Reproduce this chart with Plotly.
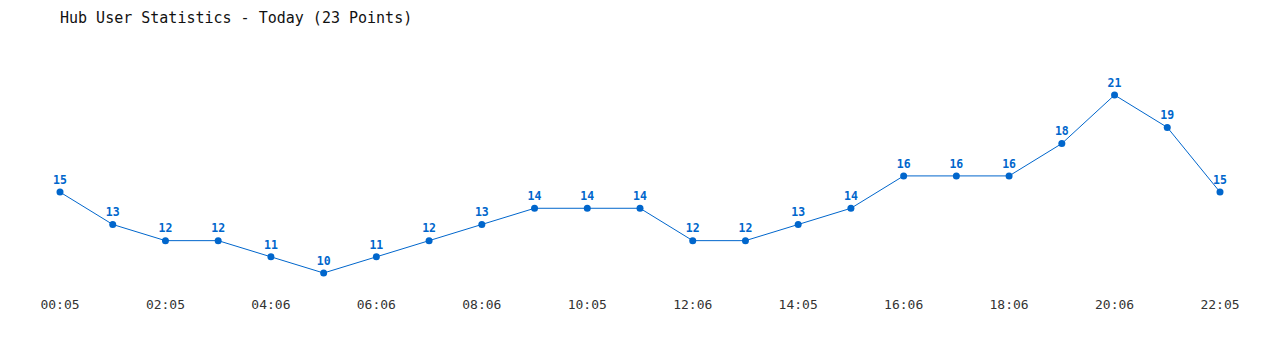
import plotly.graph_objects as go

times = ["00:05", "01:05", "02:05", "03:05", "04:06", "05:06", "06:06", "07:06",
         "08:06", "09:05", "10:05", "11:05", "12:06", "13:06", "14:05", "15:05",
         "16:06", "17:06", "18:06", "19:06", "20:06", "21:05", "22:05"]
users = [15, 13, 12, 12, 11, 10, 11, 12, 13, 14, 14, 14, 12, 12, 13, 14,
         16, 16, 16, 18, 21, 19, 15]
tick_labels = times[::2]

color = "#0066cc"
fig = go.Figure(go.Scatter(
    x=times, y=users, mode="lines+markers+text",
    line=dict(color=color, width=1),
    marker=dict(color=color, size=7),
    text=[str(v) for v in users], textposition="top center",
    textfont=dict(family="DejaVu Sans Mono", size=11.5, color=color, weight="bold"),
    cliponaxis=False,
    hoverinfo="x+y",
))
fig.update_layout(
    width=1280, height=350,
    margin=dict(l=60, r=60, t=40, b=60),
    paper_bgcolor="white", plot_bgcolor="white",
    showlegend=False,
    title=dict(text="Hub User Statistics - Today (23 Points)",
               font=dict(family="DejaVu Sans Mono", size=15, color="#111"),
               xref="container", yref="container",
               x=60/1280, xanchor="left", y=1-18/350, yanchor="middle"),
    xaxis=dict(type="category", range=[0, 22], showgrid=False, zeroline=False,
               showline=False, ticks="", tickmode="array", tickvals=tick_labels,
               ticktext=tick_labels, ticklabelstandoff=5,
               tickfont=dict(family="DejaVu Sans Mono", size=13, color="#333")),
    yaxis=dict(range=[8.95, 24.4], visible=False),
)
fig.write_html("out.html")
